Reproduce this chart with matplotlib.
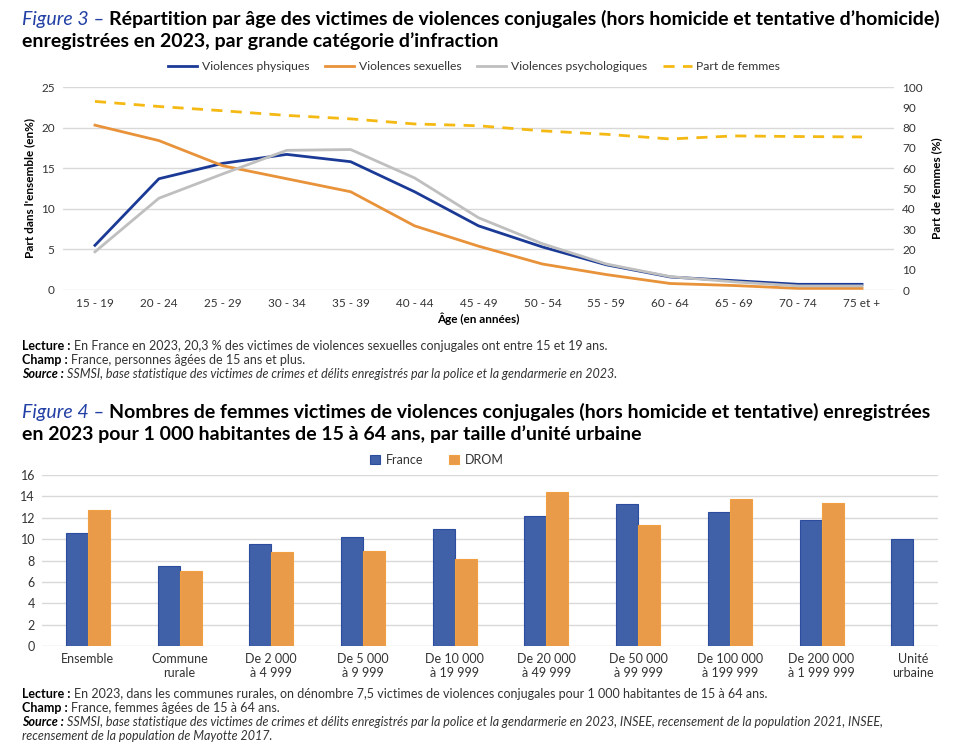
import numpy as np
import matplotlib.pyplot as plt

# --- Figure 3 data ---
ages = ['15 - 19', '20 - 24', '25 - 29', '30 - 34', '35 - 39', '40 - 44', '45 - 49',
        '50 - 54', '55 - 59', '60 - 64', '65 - 69', '70 - 74', '75 et +']
physiques = [5.5, 13.7, 15.6, 16.7, 15.8, 12.1, 7.9, 5.3, 3.1, 1.6, 1.15, 0.7, 0.7]
sexuelles = [20.3, 18.4, 15.3, 13.7, 12.1, 7.9, 5.4, 3.2, 1.9, 0.8, 0.55, 0.2, 0.2]
psycho = [4.7, 11.3, 14.3, 17.2, 17.3, 13.8, 8.9, 5.7, 3.2, 1.65, 1.0, 0.5, 0.5]
part_femmes = [92.9, 90.4, 88.3, 86.0, 84.3, 81.8, 80.9, 78.4, 76.7, 74.4, 75.9, 75.6, 75.4]

# --- Figure 4 data ---
tailles = ['Ensemble', 'Commune\nrurale', 'De 2 000\nà 4 999', 'De 5 000\nà 9 999',
           'De 10 000\nà 19 999', 'De 20 000\nà 49 999', 'De 50 000\nà 99 999',
           'De 100 000\nà 199 999', 'De 200 000\nà 1 999 999', 'Unité\nurbaine']
france = [10.6, 7.5, 9.5, 10.2, 10.95, 12.2, 13.3, 12.5, 11.75, 10.05]
drom = [12.7, 7.05, 8.8, 8.9, 8.1, 14.45, 11.3, 13.8, 13.4, np.nan]

BLUE_T = '#2341A5'
GRID = '#D9D9D9'
TXT = '#333333'

plt.rcParams['font.family'] = 'Lato'
fig = plt.figure(figsize=(9.6, 7.54), dpi=100)

# ---------------- Figure 3 ----------------
ax1 = fig.add_axes([63 / 960, 1 - 290 / 754, 831 / 960, 203 / 754])
x = np.arange(len(ages))
ax1.plot(x, physiques, color='#1B3A96', lw=2, label='Violences physiques')
ax1.plot(x, sexuelles, color='#E8923A', lw=2, label='Violences sexuelles')
ax1.plot(x, psycho, color='#BFBFBF', lw=2, label='Violences psychologiques')
ax1.set_ylim(0, 25)
ax1.set_yticks(range(0, 26, 5))
ax1.set_xlim(-0.5, len(ages) - 0.5)
ax1.set_xticks(x, ages)
ax1.grid(axis='y', color=GRID, lw=1)
ax1.set_axisbelow(True)
for s in ax1.spines.values():
    s.set_visible(False)
ax1.tick_params(length=0, labelsize=8.5, colors=TXT, pad=6)
ax1.set_ylabel("Part dans l'ensemble (en%)", fontsize=8.5, fontweight='bold', labelpad=4)
ax1.set_xlabel('Âge (en années)', fontsize=8.5, fontweight='bold', labelpad=2)

ax1r = ax1.twinx()
ax1r.plot(x, part_femmes, color='#F5B914', lw=2, ls=(0, (4, 3)), label='Part de femmes')
ax1r.set_ylim(0, 100)
ax1r.set_yticks(range(0, 101, 10))
for s in ax1r.spines.values():
    s.set_visible(False)
ax1r.tick_params(length=0, labelsize=8.5, colors=TXT, pad=6)
ax1r.set_ylabel('Part de femmes (%)', fontsize=8.5, fontweight='bold', labelpad=6)

h1, l1 = ax1.get_legend_handles_labels()
h2, l2 = ax1r.get_legend_handles_labels()
fig.legend(h1 + h2, l1 + l2, loc='center', bbox_to_anchor=(474 / 960, 1 - 67 / 754),
           ncol=4, frameon=False, fontsize=8.7, handlelength=2.4, columnspacing=1.3,
           handletextpad=0.4, labelcolor=TXT)

# ---------------- Figure 4 ----------------
ax2 = fig.add_axes([42 / 960, 1 - 646 / 754, 896 / 960, 171 / 754])
xb = np.arange(len(tailles))
w = 0.24
ax2.bar(xb - w / 2, france, w, color='#4061A8', edgecolor='#2C4C9E', lw=0.8, label='France')
ax2.bar(xb + w / 2, drom, w, color='#E99B4A', edgecolor='#F0A040', lw=0.8, label='DROM')
ax2.set_ylim(0, 16)
ax2.set_yticks(range(0, 17, 2))
ax2.set_xlim(-0.5, 9.27)
ax2.set_xticks(xb, tailles)
ax2.grid(axis='y', color=GRID, lw=1)
ax2.set_axisbelow(True)
for s in ax2.spines.values():
    s.set_visible(False)
ax2.tick_params(length=0, labelsize=9, colors=TXT, pad=5)
fig.legend(*ax2.get_legend_handles_labels(), loc='center',
           bbox_to_anchor=(437 / 960, 1 - 460 / 754), ncol=2, frameon=False,
           fontsize=9, handlelength=0.8, handleheight=0.8, columnspacing=2.0,
           handletextpad=0.5, labelcolor=TXT)


# ---------------- texts ----------------
def chain(x, y, parts):
    "one line of text built from several styled pieces"
    t = fig.text(x, y, parts[0][0], va='baseline', ha='left', **parts[0][1])
    for txt, kw in parts[1:]:
        t = ax2.annotate(txt, xy=(1, 0), xycoords=t, va='bottom', ha='left',
                         annotation_clip=False, **kw)
    return t


TBLUE = dict(style='italic', size=14, color=BLUE_T)
TBOLD = dict(weight='bold', size=14, color='black')
chain(22 / 960, 1 - 25 / 754, [('Figure 3 – ', TBLUE),
      ("Répartition par âge des victimes de violences conjugales (hors homicide et tentative d’homicide)", TBOLD)])
fig.text(22 / 960, 1 - 47 / 754, "enregistrées en 2023, par grande catégorie d’infraction",
         va='baseline', **TBOLD)
chain(22 / 960, 1 - 418 / 754, [('Figure 4 – ', TBLUE),
      ("Nombres de femmes victimes de violences conjugales (hors homicide et tentative) enregistrées", TBOLD)])
fig.text(22 / 960, 1 - 440 / 754, "en 2023 pour 1 000 habitantes de 15 à 64 ans, par taille d’unité urbaine",
         va='baseline', **TBOLD)

CB = dict(weight='bold', size=9, color='black')
CR = dict(size=9, color=TXT)
CBI = dict(weight='bold', style='italic', size=9, color='black')
CI = dict(style='italic', size=9, color=TXT)

chain(22 / 960, 1 - 350 / 754, [('Lecture : ', CB),
      ('En France en 2023, 20,3 % des victimes de violences sexuelles conjugales ont entre 15 et 19 ans.', CR)])
chain(22 / 960, 1 - 364 / 754, [('Champ : ', CB), ('France, personnes âgées de 15 ans et plus.', CR)])
chain(22 / 960, 1 - 378 / 754, [('Source : ', CBI),
      ('SSMSI, base statistique des victimes de crimes et délits enregistrés par la police et la gendarmerie en 2023.', CI)])

chain(22 / 960, 1 - 698 / 754, [('Lecture : ', CB),
      ('En 2023, dans les communes rurales, on dénombre 7,5 victimes de violences conjugales pour 1 000 habitantes de 15 à 64 ans.', CR)])
chain(22 / 960, 1 - 712 / 754, [('Champ : ', CB), ('France, femmes âgées de 15 à 64 ans.', CR)])
chain(22 / 960, 1 - 726 / 754, [('Source : ', CBI),
      ('SSMSI, base statistique des victimes de crimes et délits enregistrés par la police et la gendarmerie en 2023, INSEE, recensement de la population 2021, INSEE,', CI)])
fig.text(22 / 960, 1 - 740 / 754, 'recensement de la population de Mayotte 2017.', va='baseline', **CI)

fig.savefig('out.png', dpi=100)
